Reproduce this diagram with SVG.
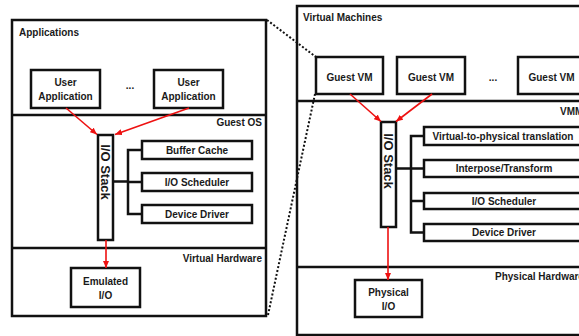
<svg xmlns="http://www.w3.org/2000/svg" width="579" height="336" viewBox="0 0 579 336">
  <style>
    .frame { fill: #ffffff; stroke: #111111; stroke-width: 2.5; }
    .box { fill: #ffffff; stroke: #111111; stroke-width: 2.5; }
    .rule { fill: none; stroke: #111111; stroke-width: 2.5; }
    .lbl { font-family: "Liberation Sans", Arial, sans-serif; font-weight: bold; font-size: 10px; fill: #1a1a1a; }
    .mid { text-anchor: middle; }
    .end { text-anchor: end; }
    .stk { font-family: "Liberation Sans", Arial, sans-serif; font-weight: bold; font-size: 13px; fill: #1a1a1a; text-anchor: middle; dominant-baseline: central; }
    .link { fill: none; stroke: #111111; stroke-width: 2.5; }
    .flow { fill: none; stroke: #ee1111; stroke-width: 1.6; marker-end: url(#tip); }
    .zoom { fill: none; stroke: #111111; stroke-width: 2; stroke-dasharray: 2 2; }
  </style>
  <defs>
    <marker id="tip" markerUnits="userSpaceOnUse" markerWidth="7" markerHeight="6" refX="7" refY="3" orient="auto">
      <path d="M0,0 L7,3 L0,6 Z" fill="#ee1111"/>
    </marker>
  </defs>

  <!-- Guest side: applications, guest OS, virtual hardware -->
  <g id="guest-panel">
    <rect class="frame" x="12" y="20" width="254" height="296"/>
    <line class="rule" x1="12" y1="115" x2="266" y2="115"/>
    <line class="rule" x1="12" y1="248" x2="266" y2="248"/>
    <text class="lbl" x="19" y="35.5">Applications</text>
    <text class="lbl end" x="262" y="126">Guest OS</text>
    <text class="lbl end" x="262" y="261.5">Virtual Hardware</text>
  </g>

  <g id="user-app-1">
    <rect class="box" x="31" y="70" width="69" height="38"/>
    <text class="lbl mid" x="65.5" y="86">User</text>
    <text class="lbl mid" x="65.5" y="100">Application</text>
  </g>
  <text class="lbl mid" x="130" y="89">...</text>
  <g id="user-app-2">
    <rect class="box" x="154" y="70" width="69" height="38"/>
    <text class="lbl mid" x="188.5" y="86">User</text>
    <text class="lbl mid" x="188.5" y="100">Application</text>
  </g>

  <g id="guest-io-stack">
    <rect class="box" x="98" y="135" width="15" height="105"/>
    <text class="stk" transform="translate(105.5,172) rotate(90)">I/O Stack</text>
  </g>
  <g id="guest-buffer-cache">
    <rect class="box" x="142" y="141" width="110" height="18"/>
    <text class="lbl mid" x="197" y="153.5">Buffer Cache</text>
  </g>
  <g id="guest-io-scheduler">
    <rect class="box" x="142" y="173" width="110" height="18"/>
    <text class="lbl mid" x="197" y="185.5">I/O Scheduler</text>
  </g>
  <g id="guest-device-driver">
    <rect class="box" x="142" y="205" width="110" height="18"/>
    <text class="lbl mid" x="197" y="217.5">Device Driver</text>
  </g>
  <g id="emulated-io">
    <rect class="box" x="71" y="268" width="69" height="39"/>
    <text class="lbl mid" x="105.5" y="285">Emulated</text>
    <text class="lbl mid" x="105.5" y="299">I/O</text>
  </g>

  <!-- Host side: virtual machines, VMM, physical hardware -->
  <g id="host-panel">
    <rect class="frame" x="297" y="6" width="290" height="329"/>
    <line class="rule" x1="297" y1="101" x2="587" y2="101"/>
    <line class="rule" x1="297" y1="267" x2="587" y2="267"/>
    <text class="lbl" x="303" y="20.5">Virtual Machines</text>
    <text class="lbl" x="560" y="114.5">VMM</text>
    <text class="lbl" x="495" y="279.5">Physical Hardware</text>
  </g>

  <g id="guest-vm-1">
    <rect class="box" x="316" y="57" width="67" height="37"/>
    <text class="lbl mid" x="349.5" y="81">Guest VM</text>
  </g>
  <g id="guest-vm-2">
    <rect class="box" x="397" y="57" width="68" height="37"/>
    <text class="lbl mid" x="431" y="81">Guest VM</text>
  </g>
  <text class="lbl mid" x="493" y="81">...</text>
  <g id="guest-vm-n">
    <rect class="box" x="518" y="57" width="67" height="37"/>
    <text class="lbl mid" x="551.5" y="81">Guest VM</text>
  </g>

  <g id="vmm-io-stack">
    <rect class="box" x="381" y="122" width="15" height="105"/>
    <text class="stk" transform="translate(388.5,161) rotate(90)">I/O Stack</text>
  </g>
  <g id="vmm-translation">
    <rect class="box" x="424" y="127" width="160" height="18"/>
    <text class="lbl mid" x="503" y="139.5">Virtual-to-physical translation</text>
  </g>
  <g id="vmm-interpose">
    <rect class="box" x="424" y="160" width="160" height="17"/>
    <text class="lbl mid" x="504" y="172">Interpose/Transform</text>
  </g>
  <g id="vmm-io-scheduler">
    <rect class="box" x="424" y="193" width="160" height="16"/>
    <text class="lbl mid" x="504" y="204.5">I/O Scheduler</text>
  </g>
  <g id="vmm-device-driver">
    <rect class="box" x="424" y="224" width="160" height="17"/>
    <text class="lbl mid" x="504" y="236">Device Driver</text>
  </g>
  <g id="physical-io">
    <rect class="box" x="355" y="280" width="67" height="37"/>
    <text class="lbl mid" x="388.5" y="296">Physical</text>
    <text class="lbl mid" x="388.5" y="310">I/O</text>
  </g>

  <g id="connectors">
    <!-- stack-to-layer brackets -->
    <path class="link" d="M113,181.5 H128 M142,150 H128 V214 H142 M128,182 H142"/>
    <path class="link" d="M396,168.5 H411 M424,136 H411 V232.5 H424 M411,168.5 H424 M411,201 H424"/>
    <!-- I/O request flow -->
    <line class="flow" x1="66" y1="108" x2="97" y2="134.5"/>
    <line class="flow" x1="189" y1="108" x2="115" y2="134.5"/>
    <line class="flow" x1="106" y1="240" x2="106" y2="268"/>
    <line class="flow" x1="350" y1="94" x2="381" y2="121.5"/>
    <line class="flow" x1="432" y1="94" x2="396" y2="121.5"/>
    <line class="flow" x1="388" y1="227" x2="388" y2="280"/>
    <!-- zoom-out lines from the guest to its VM -->
    <line class="zoom" x1="267" y1="20" x2="316" y2="57"/>
    <line class="zoom" x1="268" y1="315" x2="315" y2="94"/>
  </g>
</svg>
